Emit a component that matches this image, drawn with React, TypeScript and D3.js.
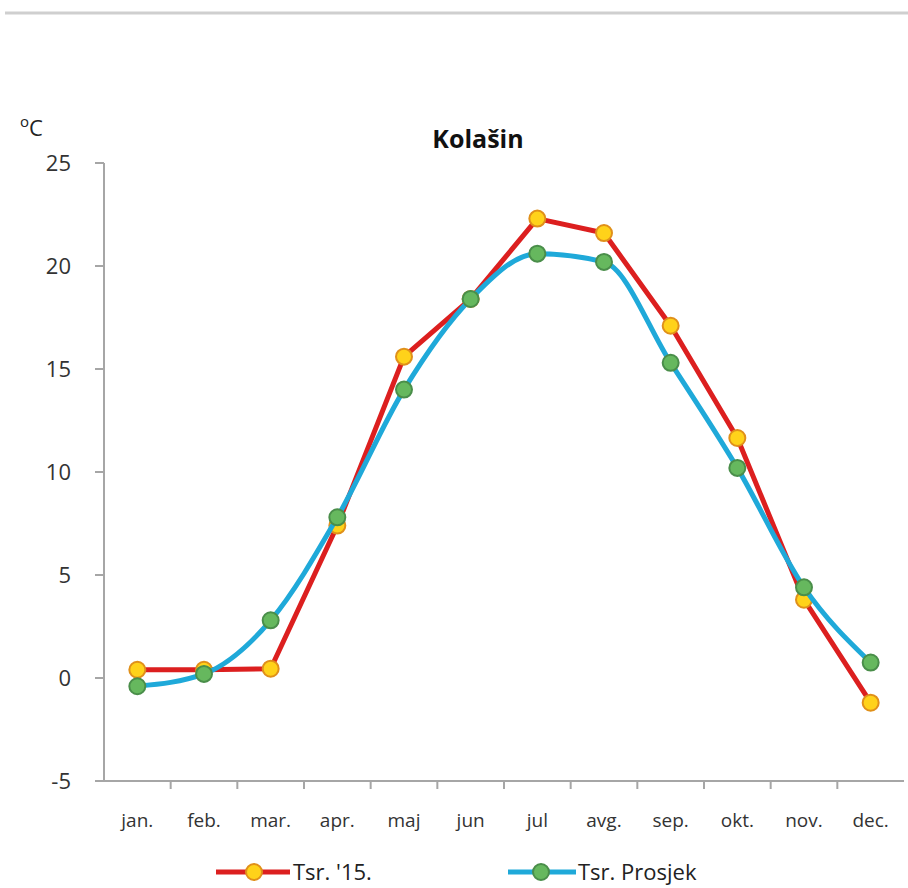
import React from "react";
import * as d3 from "d3";

const months = ["jan.", "feb.", "mar.", "apr.", "maj", "jun", "jul", "avg.", "sep.", "okt.", "nov.", "dec."];
const tsr15 = [0.4, 0.4, 0.45, 7.4, 15.6, 18.4, 22.3, 21.6, 17.1, 11.65, 3.8, -1.2];
const tsrProsjek = [-0.4, 0.2, 2.8, 7.8, 14.0, 18.4, 20.6, 20.2, 15.3, 10.2, 4.4, 0.75];
const yTicks = [-5, 0, 5, 10, 15, 20, 25];

const W = 908;
const H = 888;
const font = "'Open Sans', 'Noto Sans', sans-serif";

const App = () => {
  const x = d3.scaleBand().domain(months).range([104, 904]);
  const y = d3.scaleLinear().domain([-5, 25]).range([781, 163]);
  const cx = (m: string) => (x(m) as number) + x.bandwidth() / 2;

  const redLine = d3
    .line<number>()
    .x((d, i) => cx(months[i]))
    .y(d => y(d));
  // average line is slightly smoothed, like excel
  const blueLine = d3
    .line<number>()
    .x((d, i) => cx(months[i]))
    .y(d => y(d))
    .curve(d3.curveMonotoneX);

  const red = "#dc1f1f";
  const blue = "#1fa9d9";
  const yellow = "#ffd21a";
  const yellowEdge = "#e0901a";
  const green = "#66b85e";
  const greenEdge = "#4a8e4a";
  const axisCol = "#a6a6a6";

  return (
    <svg width={W} height={H} style={{ position: "absolute", left: 0, top: 0, background: "#fff" }}>
      <line x1={5} x2={908} y1={13} y2={13} stroke="#cfcfcf" strokeWidth={3} />

      <text x={478} y={148} textAnchor="middle" fontFamily={font} fontWeight="bold" fontSize={25} fill="#111">
        Kolašin
      </text>
      <text x={20} y={136} fontFamily={font} fontSize={22} fill="#222">
        <tspan fontSize={15} dy={-9}>o</tspan>
        <tspan dy={9}>C</tspan>
      </text>

      {/* y axis */}
      <line x1={104} x2={104} y1={y(25)} y2={y(-5) + 1} stroke={axisCol} strokeWidth={2} />
      {yTicks.map(t => (
        <g key={t}>
          <line x1={95} x2={104} y1={y(t)} y2={y(t)} stroke={axisCol} strokeWidth={2} />
          <text x={71} y={y(t) + 8} textAnchor="end" fontFamily={font} fontSize={22} fill="#333">
            {t}
          </text>
        </g>
      ))}

      {/* x axis */}
      <line x1={95} x2={904} y1={y(-5)} y2={y(-5)} stroke={axisCol} strokeWidth={2} />
      {months.map((m, i) => (
        <g key={m}>
          {i > 0 && (
            <line x1={x(m) as number} x2={x(m) as number} y1={y(-5)} y2={y(-5) + 8} stroke={axisCol} strokeWidth={2} />
          )}
          <text x={cx(m)} y={827} textAnchor="middle" fontFamily={font} fontSize={19} fill="#333">
            {m}
          </text>
        </g>
      ))}

      {/* series */}
      <path d={redLine(tsr15) || ""} fill="none" stroke={red} strokeWidth={5} strokeLinejoin="round" />
      {tsr15.map((v, i) => (
        <circle key={"r" + i} cx={cx(months[i])} cy={y(v)} r={8} fill={yellow} stroke={yellowEdge} strokeWidth={2} />
      ))}
      <path d={blueLine(tsrProsjek) || ""} fill="none" stroke={blue} strokeWidth={5} strokeLinejoin="round" />
      {tsrProsjek.map((v, i) => (
        <circle key={"b" + i} cx={cx(months[i])} cy={y(v)} r={8} fill={green} stroke={greenEdge} strokeWidth={2} />
      ))}

      {/* legend */}
      <line x1={216} x2={290} y1={872} y2={872} stroke={red} strokeWidth={5} />
      <circle cx={254} cy={872} r={8} fill={yellow} stroke={yellowEdge} strokeWidth={2} />
      <text x={293} y={880} fontFamily={font} fontSize={22} fill="#222">
        Tsr. '15.
      </text>
      <line x1={508} x2={576} y1={872} y2={872} stroke={blue} strokeWidth={5} />
      <circle cx={541} cy={872} r={8} fill={green} stroke={greenEdge} strokeWidth={2} />
      <text x={578} y={880} fontFamily={font} fontSize={22} fill="#222">
        Tsr. Prosjek
      </text>
    </svg>
  );
};

export default App;
